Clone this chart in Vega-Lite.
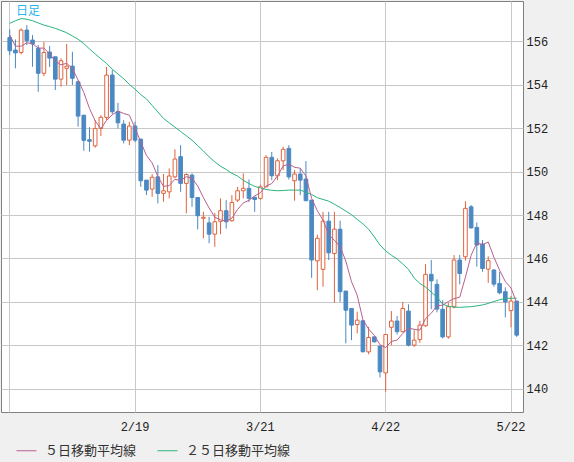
{
  "$schema": "https://vega.github.io/schema/vega-lite/v6.json",
  "width": 522,
  "height": 411,
  "autosize": {"type": "none"},
  "padding": {"left": 1, "top": 1, "right": 51, "bottom": 50},
  "background": "#f0f0f0",
  "title": {
    "text": "日足",
    "anchor": "start",
    "orient": "top",
    "frame": "group",
    "offset": -17,
    "dx": 15,
    "fontSize": 12,
    "fontWeight": "normal",
    "font": "Noto Sans CJK JP",
    "color": "#2ab4ec"
  },
  "data": {
    "values": [
      {"d": "1/20", "o": 156.18, "h": 156.55, "l": 155.37, "c": 155.57, "m5": 156.29, "m25": 156.83},
      {"d": "1/21", "o": 155.6, "h": 156.09, "l": 154.76, "c": 155.47, "m5": 155.78, "m25": 156.95},
      {"d": "1/22", "o": 155.49, "h": 156.6, "l": 155.4, "c": 156.52, "m5": 155.78, "m25": 157.05},
      {"d": "1/23", "o": 156.52, "h": 156.75, "l": 155.83, "c": 156.03, "m5": 155.94, "m25": 157.02},
      {"d": "1/24", "o": 156.06, "h": 156.29, "l": 154.83, "c": 155.88, "m5": 155.89, "m25": 156.95},
      {"d": "1/27", "o": 155.68, "h": 155.83, "l": 153.68, "c": 154.53, "m5": 155.69, "m25": 156.85},
      {"d": "1/28", "o": 154.53, "h": 155.98, "l": 154.4, "c": 155.49, "m5": 155.69, "m25": 156.75},
      {"d": "1/29", "o": 155.51, "h": 155.78, "l": 154.82, "c": 155.23, "m5": 155.43, "m25": 156.68},
      {"d": "1/30", "o": 155.29, "h": 155.29, "l": 153.76, "c": 154.26, "m5": 155.08, "m25": 156.6},
      {"d": "1/31", "o": 154.26, "h": 155.22, "l": 153.91, "c": 155.11, "m5": 154.92, "m25": 156.5},
      {"d": "2/3", "o": 154.76, "h": 155.88, "l": 153.99, "c": 154.86, "m5": 154.99, "m25": 156.4},
      {"d": "2/4", "o": 154.86, "h": 155.52, "l": 153.99, "c": 154.3, "m5": 154.75, "m25": 156.25},
      {"d": "2/5", "o": 154.14, "h": 154.2, "l": 152.07, "c": 152.56, "m5": 154.22, "m25": 156.1},
      {"d": "2/6", "o": 152.6, "h": 152.6, "l": 150.96, "c": 151.44, "m5": 153.65, "m25": 155.9},
      {"d": "2/7", "o": 151.47, "h": 152.05, "l": 150.92, "c": 151.4, "m5": 152.91, "m25": 155.65},
      {"d": "2/10", "o": 151.19, "h": 152.37, "l": 151.1, "c": 151.99, "m5": 152.34, "m25": 155.42},
      {"d": "2/11", "o": 151.99, "h": 152.6, "l": 151.64, "c": 152.5, "m5": 151.98, "m25": 155.2},
      {"d": "2/12", "o": 152.5, "h": 154.83, "l": 152.37, "c": 154.45, "m5": 152.36, "m25": 154.98},
      {"d": "2/13", "o": 154.45, "h": 154.68, "l": 152.65, "c": 152.76, "m5": 152.62, "m25": 154.72},
      {"d": "2/14", "o": 152.76, "h": 153.17, "l": 151.99, "c": 152.25, "m5": 152.79, "m25": 154.5},
      {"d": "2/17", "o": 152.19, "h": 152.37, "l": 151.3, "c": 151.45, "m5": 152.68, "m25": 154.28},
      {"d": "2/18", "o": 151.45, "h": 152.3, "l": 151.22, "c": 152.1, "m5": 152.6, "m25": 154.02},
      {"d": "2/19", "o": 152.1, "h": 152.3, "l": 151.36, "c": 151.45, "m5": 152.0, "m25": 153.8},
      {"d": "2/20", "o": 151.5, "h": 151.5, "l": 149.3, "c": 149.58, "m5": 151.37, "m25": 153.55},
      {"d": "2/21", "o": 149.61, "h": 149.61, "l": 148.92, "c": 149.15, "m5": 150.75, "m25": 153.35},
      {"d": "2/24", "o": 149.2, "h": 149.89, "l": 148.84, "c": 149.74, "m5": 150.4, "m25": 153.05},
      {"d": "2/25", "o": 149.76, "h": 150.3, "l": 148.54, "c": 149.0, "m5": 149.78, "m25": 152.75},
      {"d": "2/26", "o": 149.0, "h": 149.89, "l": 148.61, "c": 149.12, "m5": 149.32, "m25": 152.45},
      {"d": "2/27", "o": 149.07, "h": 150.15, "l": 148.77, "c": 149.8, "m5": 149.36, "m25": 152.25},
      {"d": "2/28", "o": 149.76, "h": 151.03, "l": 149.7, "c": 150.58, "m5": 149.65, "m25": 152.05},
      {"d": "3/3", "o": 150.69, "h": 151.22, "l": 149.07, "c": 149.46, "m5": 149.59, "m25": 151.85},
      {"d": "3/4", "o": 149.46, "h": 149.92, "l": 148.08, "c": 149.87, "m5": 149.77, "m25": 151.65},
      {"d": "3/5", "o": 149.84, "h": 149.92, "l": 148.38, "c": 148.81, "m5": 149.7, "m25": 151.45},
      {"d": "3/6", "o": 148.81, "h": 148.81, "l": 147.34, "c": 147.97, "m5": 149.34, "m25": 151.2},
      {"d": "3/7", "o": 147.85, "h": 148.15, "l": 146.93, "c": 147.9, "m5": 148.8, "m25": 150.95},
      {"d": "3/10", "o": 147.64, "h": 147.92, "l": 146.7, "c": 147.12, "m5": 148.33, "m25": 150.68},
      {"d": "3/11", "o": 147.12, "h": 148.1, "l": 146.54, "c": 147.69, "m5": 147.9, "m25": 150.45},
      {"d": "3/12", "o": 147.71, "h": 148.77, "l": 147.12, "c": 148.2, "m5": 147.78, "m25": 150.25},
      {"d": "3/13", "o": 148.2, "h": 148.69, "l": 147.38, "c": 147.69, "m5": 147.72, "m25": 150.1},
      {"d": "3/14", "o": 147.74, "h": 148.92, "l": 147.7, "c": 148.58, "m5": 147.86, "m25": 149.92},
      {"d": "3/17", "o": 148.69, "h": 149.3, "l": 148.6, "c": 149.12, "m5": 148.26, "m25": 149.8},
      {"d": "3/18", "o": 149.12, "h": 149.92, "l": 148.77, "c": 149.23, "m5": 148.56, "m25": 149.6},
      {"d": "3/19", "o": 149.23, "h": 149.64, "l": 148.6, "c": 148.77, "m5": 148.68, "m25": 149.45},
      {"d": "3/20", "o": 148.82, "h": 148.85, "l": 148.15, "c": 148.72, "m5": 148.88, "m25": 149.32},
      {"d": "3/21", "o": 148.77, "h": 149.4, "l": 148.7, "c": 149.3, "m5": 149.03, "m25": 149.25},
      {"d": "3/24", "o": 149.3, "h": 150.76, "l": 149.3, "c": 150.66, "m5": 149.34, "m25": 149.18},
      {"d": "3/25", "o": 150.66, "h": 150.91, "l": 149.61, "c": 149.81, "m5": 149.45, "m25": 149.14},
      {"d": "3/26", "o": 149.81, "h": 150.61, "l": 149.61, "c": 150.5, "m5": 149.8, "m25": 149.12},
      {"d": "3/27", "o": 150.5, "h": 151.15, "l": 150.07, "c": 151.03, "m5": 150.26, "m25": 149.13},
      {"d": "3/28", "o": 151.07, "h": 151.22, "l": 149.64, "c": 149.76, "m5": 150.35, "m25": 149.15},
      {"d": "3/31", "o": 149.58, "h": 150.07, "l": 148.66, "c": 149.89, "m5": 150.2, "m25": 149.15},
      {"d": "4/1", "o": 149.89, "h": 150.15, "l": 148.92, "c": 149.61, "m5": 150.16, "m25": 149.15},
      {"d": "4/2", "o": 149.66, "h": 150.49, "l": 148.66, "c": 148.66, "m5": 149.79, "m25": 149.05},
      {"d": "4/3", "o": 148.69, "h": 148.69, "l": 145.11, "c": 145.93, "m5": 148.77, "m25": 148.95},
      {"d": "4/4", "o": 145.89, "h": 147.1, "l": 144.54, "c": 146.93, "m5": 148.2, "m25": 148.8},
      {"d": "4/7", "o": 145.5, "h": 148.15, "l": 144.7, "c": 147.72, "m5": 147.77, "m25": 148.72},
      {"d": "4/8", "o": 147.72, "h": 148.15, "l": 145.93, "c": 146.26, "m5": 147.1, "m25": 148.64},
      {"d": "4/9", "o": 146.23, "h": 148.15, "l": 143.96, "c": 147.35, "m5": 146.84, "m25": 148.5},
      {"d": "4/10", "o": 147.35, "h": 147.74, "l": 144.0, "c": 144.47, "m5": 146.55, "m25": 148.35},
      {"d": "4/11", "o": 144.5, "h": 144.5, "l": 142.09, "c": 143.62, "m5": 145.88, "m25": 148.18},
      {"d": "4/14", "o": 143.7, "h": 143.7, "l": 142.24, "c": 142.93, "m5": 144.93, "m25": 148.02},
      {"d": "4/15", "o": 142.96, "h": 143.55, "l": 142.55, "c": 143.16, "m5": 144.31, "m25": 147.8},
      {"d": "4/16", "o": 143.13, "h": 143.17, "l": 141.7, "c": 141.7, "m5": 143.18, "m25": 147.6},
      {"d": "4/17", "o": 141.7, "h": 142.85, "l": 141.59, "c": 142.36, "m5": 142.75, "m25": 147.35},
      {"d": "4/18", "o": 142.39, "h": 142.4, "l": 142.13, "c": 142.16, "m5": 142.46, "m25": 147.0},
      {"d": "4/21", "o": 141.97, "h": 141.97, "l": 140.52, "c": 140.78, "m5": 142.03, "m25": 146.62},
      {"d": "4/22", "o": 140.73, "h": 142.5, "l": 139.86, "c": 142.5, "m5": 141.9, "m25": 146.35},
      {"d": "4/23", "o": 142.83, "h": 143.58, "l": 142.0, "c": 143.12, "m5": 142.18, "m25": 146.15},
      {"d": "4/24", "o": 143.12, "h": 143.35, "l": 142.5, "c": 142.63, "m5": 142.24, "m25": 145.98},
      {"d": "4/25", "o": 142.63, "h": 144.0, "l": 142.6, "c": 143.7, "m5": 142.55, "m25": 145.75},
      {"d": "4/28", "o": 143.58, "h": 143.89, "l": 141.95, "c": 142.01, "m5": 142.79, "m25": 145.5},
      {"d": "4/29", "o": 142.01, "h": 142.7, "l": 141.93, "c": 142.24, "m5": 142.74, "m25": 145.1},
      {"d": "4/30", "o": 142.27, "h": 143.12, "l": 142.12, "c": 142.93, "m5": 142.7, "m25": 144.85},
      {"d": "5/1", "o": 142.9, "h": 145.74, "l": 142.85, "c": 145.27, "m5": 143.23, "m25": 144.68},
      {"d": "5/2", "o": 145.27, "h": 145.93, "l": 143.67, "c": 144.97, "m5": 143.48, "m25": 144.45},
      {"d": "5/5", "o": 144.81, "h": 145.04, "l": 143.52, "c": 143.67, "m5": 143.82, "m25": 144.22},
      {"d": "5/6", "o": 143.66, "h": 144.08, "l": 142.32, "c": 142.39, "m5": 143.85, "m25": 143.9},
      {"d": "5/7", "o": 142.39, "h": 143.96, "l": 142.3, "c": 143.78, "m5": 144.02, "m25": 143.8},
      {"d": "5/8", "o": 143.78, "h": 146.16, "l": 143.7, "c": 145.93, "m5": 144.15, "m25": 143.76},
      {"d": "5/9", "o": 145.93, "h": 146.16, "l": 144.81, "c": 145.31, "m5": 144.22, "m25": 143.75},
      {"d": "5/12", "o": 146.08, "h": 148.64, "l": 145.9, "c": 148.31, "m5": 145.14, "m25": 143.77},
      {"d": "5/13", "o": 148.38, "h": 148.46, "l": 147.38, "c": 147.41, "m5": 146.15, "m25": 143.78},
      {"d": "5/14", "o": 147.43, "h": 147.66, "l": 145.62, "c": 146.62, "m5": 146.72, "m25": 143.82},
      {"d": "5/15", "o": 146.66, "h": 146.85, "l": 145.39, "c": 145.54, "m5": 146.64, "m25": 143.86},
      {"d": "5/16", "o": 145.51, "h": 146.1, "l": 144.88, "c": 145.9, "m5": 146.76, "m25": 143.93},
      {"d": "5/19", "o": 145.47, "h": 145.51, "l": 144.7, "c": 144.82, "m5": 146.06, "m25": 144.02},
      {"d": "5/20", "o": 144.85, "h": 145.39, "l": 144.35, "c": 144.42, "m5": 145.46, "m25": 144.1},
      {"d": "5/21", "o": 144.47, "h": 144.67, "l": 143.29, "c": 144.0, "m5": 144.94, "m25": 144.16},
      {"d": "5/22", "o": 143.6, "h": 144.27, "l": 142.83, "c": 144.04, "m5": 144.64, "m25": 144.17},
      {"d": "5/23", "o": 144.04, "h": 144.04, "l": 142.39, "c": 142.47, "m5": 143.95, "m25": 144.17}
    ]
  },
  "encoding": {
    "x": {
      "field": "d",
      "type": "ordinal",
      "sort": null,
      "scale": {"type": "band", "paddingInner": 0.36, "paddingOuter": 1.49, "align": 0.607},
      "axis": {
        "values": ["1/20", "2/19", "3/21", "4/22", "5/22"],
        "labelExpr": "datum.value == '1/20' ? '' : datum.value",
        "labelAngle": 0,
        "labelPadding": 9,
        "bandPosition": 0.5,
        "title": null
      }
    }
  },
  "layer": [
    {
      "mark": {"type": "rule", "strokeWidth": 1},
      "encoding": {
        "y": {
          "field": "l",
          "type": "quantitative",
          "scale": {"domain": [138.93, 157.86], "nice": false, "zero": false},
          "axis": {"orient": "right", "values": [140, 142, 144, 146, 148, 150, 152, 154, 156], "labelPadding": 3, "title": null}
        },
        "y2": {"field": "h"},
        "color": {"condition": {"test": "datum.c > datum.o", "value": "#e0643c"}, "value": "#4b89c3"}
      }
    },
    {
      "mark": {"type": "bar", "strokeWidth": 1},
      "encoding": {
        "y": {"field": "o", "type": "quantitative"},
        "y2": {"field": "c"},
        "fill": {"condition": {"test": "datum.c > datum.o", "value": "#ffffff"}, "value": "#4b89c3"},
        "stroke": {"condition": {"test": "datum.c > datum.o", "value": "#e0643c"}, "value": "#4b89c3"}
      }
    },
    {
      "mark": {"type": "line", "strokeWidth": 1},
      "encoding": {
        "y": {"field": "m25", "type": "quantitative"},
        "color": {
          "datum": "２５日移動平均線",
          "scale": {"domain": ["５日移動平均線", "２５日移動平均線"], "range": ["#b85f8f", "#28b47c"]},
          "legend": {
            "orient": "none",
            "legendX": 15,
            "legendY": 439,
            "direction": "horizontal",
            "symbolType": "stroke",
            "symbolSize": 400,
            "symbolStrokeWidth": 1,
            "labelOffset": 8,
            "columnPadding": 18,
            "labelFont": "Noto Sans CJK JP",
            "labelFontSize": 13,
            "labelColor": "#333333",
            "padding": 0,
            "title": null
          }
        }
      }
    },
    {
      "mark": {"type": "line", "strokeWidth": 1},
      "encoding": {
        "y": {"field": "m5", "type": "quantitative"},
        "color": {"datum": "５日移動平均線"}
      }
    }
  ],
  "config": {
    "view": {"fill": "#ffffff", "stroke": "#808080"},
    "axis": {
      "domain": false,
      "ticks": false,
      "grid": true,
      "gridColor": "#c8c8c8",
      "labelFont": "Liberation Mono",
      "labelFontSize": 12,
      "labelColor": "#222222"
    }
  }
}
